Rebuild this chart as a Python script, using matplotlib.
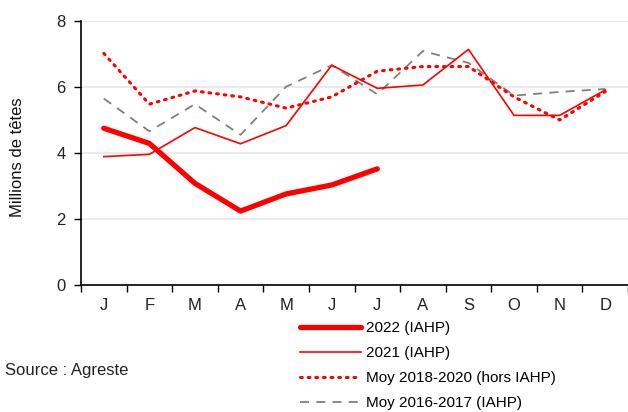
import matplotlib
matplotlib.use("Agg")
import matplotlib.pyplot as plt
import numpy as np

months = ["J", "F", "M", "A", "M", "J", "J", "A", "S", "O", "N", "D"]
s2022 = [4.75, 4.29, 3.08, 2.24, 2.76, 3.03, 3.52]
s2021 = [3.89, 3.96, 4.77, 4.28, 4.83, 6.66, 5.96, 6.06, 7.14, 5.14, 5.14, 5.91]
moy1820 = [7.02, 5.48, 5.88, 5.70, 5.36, 5.70, 6.48, 6.62, 6.62, 5.70, 5.00, 5.86]
moy1617 = [5.65, 4.66, 5.48, 4.55, 6.01, 6.66, 5.78, 7.09, 6.73, 5.74, 5.85, 5.94]
labels = ["2022 (IAHP)", "2021 (IAHP)", "Moy 2018-2020 (hors IAHP)", "Moy 2016-2017 (IAHP)"]
yticks = [0, 2, 4, 6, 8]

plt.rcParams['font.family'] = ['Liberation Sans', 'DejaVu Sans']

fig = plt.figure(figsize=(6.28, 4.12), dpi=100)
ax = fig.add_axes([81/628, 1-285/412, 1-81/628, (285-21)/412])

x = np.arange(len(months))
l4, = ax.plot(x, moy1617, color="#808080", lw=1.3, ls=(0, (5, 4)), zorder=2)
l3, = ax.plot(x, moy1820, color="#ff0000", lw=2.2, ls=(0, (0.6, 1.9)), dash_capstyle='round', zorder=3)
l2, = ax.plot(x, s2021, color="#ff0000", lw=1.2, zorder=4)
l1, = ax.plot(np.arange(len(s2022)), s2022, color="#ff0000", lw=3.8, solid_capstyle='round', zorder=5)

ax.set_xlim(-0.5, len(months) - 0.5)
ax.set_ylim(0, 8)
ax.set_yticks(yticks)
ax.set_xticks(x)
ax.set_xticklabels(months)
ax.set_xticks(np.arange(-0.5, len(months)), minor=True)
ax.tick_params(axis='x', which='major', length=0, labelsize=12, pad=9, colors='#222222')
ax.tick_params(axis='x', which='minor', length=5, width=1, direction='out')
ax.tick_params(axis='y', length=5, width=1, direction='out', labelsize=12, pad=6)
ax.tick_params(axis='y', colors='black', labelcolor='#222222')
ax.grid(axis='y', color='#e8e8e8', lw=1.2, zorder=0)
ax.set_axisbelow(True)
for s in ['top', 'right']:
    ax.spines[s].set_visible(False)
ax.spines['left'].set_linewidth(1.2)
ax.spines['bottom'].set_linewidth(1.2)
fig.text(18/628, 1-157/412, "Millions de têtes", fontsize=12, rotation=90,
         va='center', ha='center', color='#111111')

fig.legend([l1, l2, l3, l4], labels, loc='upper left', bbox_to_anchor=(300/628, 1-321/412),
           frameon=False, fontsize=11, handlelength=4.0, handletextpad=0.35,
           labelspacing=0.72, borderaxespad=0, borderpad=0)
fig.text(5/628, 1-371/412, "Source : Agreste", fontsize=12, va='center', ha='left', color='#222222')

fig.savefig("out.png", dpi=100)
